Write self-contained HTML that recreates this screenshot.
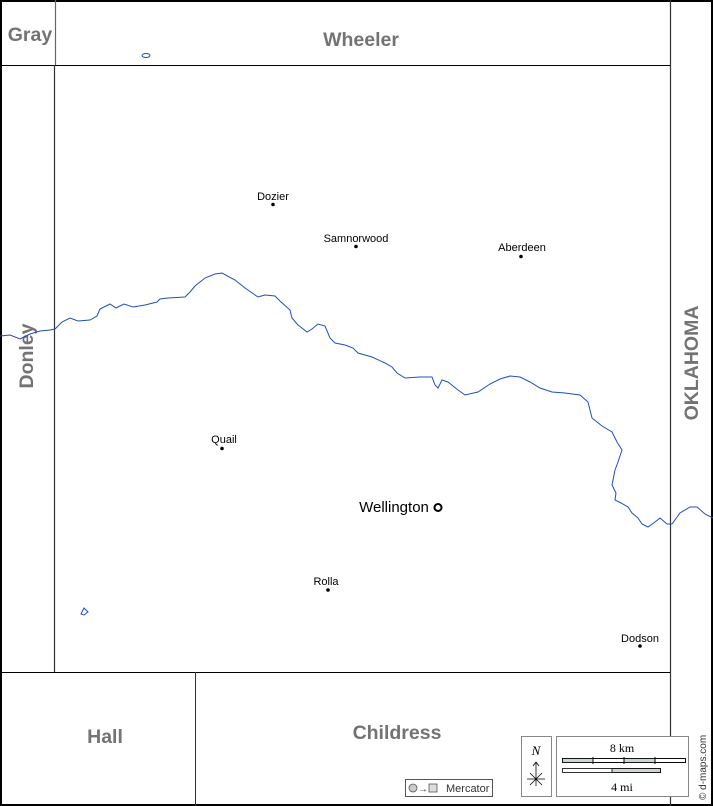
<!DOCTYPE html>
<html><head><meta charset="utf-8"><style>
html,body{margin:0;padding:0;background:#fff}
svg{display:block}
.c{font-family:"Liberation Sans",Arial,sans-serif;font-weight:bold;fill:#737373;font-size:19.5px}
.t{font-family:"Liberation Sans",Arial,sans-serif;font-size:11px;fill:#000}
</style></head><body>
<svg width="713" height="806" viewBox="0 0 713 806" xmlns="http://www.w3.org/2000/svg">
<rect x="1" y="1" width="711" height="804" fill="#fff" stroke="#000" stroke-width="2"/>
<line x1="55.5" y1="0" x2="55.5" y2="66" stroke="#666" stroke-width="1.2"/>
<line x1="0" y1="65.5" x2="670" y2="65.5" stroke="#000" stroke-width="1"/>
<line x1="670.5" y1="0" x2="670.5" y2="806" stroke="#333" stroke-width="1.2"/>
<line x1="54.5" y1="65" x2="54.5" y2="672" stroke="#333" stroke-width="1.2"/>
<line x1="0" y1="672.5" x2="670" y2="672.5" stroke="#000" stroke-width="1"/>
<line x1="195.5" y1="672" x2="195.5" y2="806" stroke="#333" stroke-width="1"/>
<text class="c" x="30" y="41" text-anchor="middle">Gray</text>
<text class="c" x="361" y="46" text-anchor="middle">Wheeler</text>
<text class="c" x="105" y="743" text-anchor="middle">Hall</text>
<text class="c" x="397" y="739" text-anchor="middle">Childress</text>
<text class="c" transform="translate(33,356) rotate(-90)" text-anchor="middle">Donley</text>
<text class="c" transform="translate(698,363) rotate(-90)" text-anchor="middle">OKLAHOMA</text>
<path fill="none" stroke="#1f4fbf" stroke-width="1" d="M0,336 L10,335 L20,339 L30,334 L40,331 L50,330 L55,329 L62,322 L70,318 L78,321 L90,320 L97,316 L100,309 L110,304 L116,308 L124,304 L133,307 L145,305 L157,302 L160,299 L168,298 L185,297 L190,292 L195,286 L205,278 L215,274 L222,273 L235,280 L245,288 L258,297 L265,295 L275,296 L280,301 L290,310 L292,318 L298,325 L307,332 L312,329 L318,324 L325,326 L330,338 L335,343 L345,345 L353,348 L358,353 L372,357 L385,363 L392,367 L397,373 L405,378 L420,377 L432,377 L435,385 L438,388 L442,380 L448,382 L458,390 L465,395 L478,392 L490,384 L500,379 L510,376 L520,377 L530,382 L540,388 L552,392 L565,393 L580,395 L588,402 L592,418 L602,426 L612,432 L617,442 L622,450 L618,462 L615,470 L612,485 L616,493 L615,500 L621,503 L628,507 L632,513 L638,518 L642,524 L648,527 L655,522 L660,518 L667,524 L672,524 L680,513 L690,507 L697,507 L705,514 L713,518"/>
<ellipse cx="146" cy="55.5" rx="4" ry="2" fill="none" stroke="#1f4fbf" stroke-width="1"/>
<path d="M84,608 L88,612 L84,615 L81,614 Z" fill="none" stroke="#1f4fbf" stroke-width="1"/>
<g>
<circle cx="273" cy="204.5" r="1.8"/><text class="t" x="273" y="200" text-anchor="middle">Dozier</text>
<circle cx="356" cy="246.5" r="1.8"/><text class="t" x="356" y="242" text-anchor="middle">Samnorwood</text>
<circle cx="521" cy="256.5" r="1.8"/><text class="t" x="522" y="251" text-anchor="middle">Aberdeen</text>
<circle cx="222" cy="448.5" r="1.8"/><text class="t" x="224" y="443" text-anchor="middle">Quail</text>
<circle cx="328" cy="590" r="1.8"/><text class="t" x="326" y="585" text-anchor="middle">Rolla</text>
<circle cx="640" cy="646" r="1.8"/><text class="t" x="640" y="642" text-anchor="middle">Dodson</text>
<circle cx="438" cy="507.5" r="3.5" fill="none" stroke="#000" stroke-width="2"/>
<text x="394" y="512" text-anchor="middle" style="font-family:'Liberation Sans',sans-serif;font-size:15px">Wellington</text>
</g>
<rect x="405.5" y="779.5" width="87" height="17" fill="#fff" stroke="#555" stroke-width="1"/>
<circle cx="413" cy="788" r="4" fill="#ccc" stroke="#555" stroke-width="0.8"/>
<text x="418" y="792" style="font-family:'Liberation Sans',sans-serif;font-size:10px;fill:#333">→</text>
<rect x="429" y="784" width="8" height="8" fill="#ddd" stroke="#555" stroke-width="0.8"/>
<text x="446" y="792" style="font-family:'Liberation Sans',sans-serif;font-size:11px;fill:#333">Mercator</text>
<rect x="521.5" y="736.5" width="30" height="60" fill="#fff" stroke="#888"/>
<text x="536" y="755" text-anchor="middle" style="font-family:'Liberation Serif',serif;font-style:italic;font-size:13px">N</text>
<line x1="536" y1="763" x2="536" y2="786" stroke="#000" stroke-width="0.8"/>
<path d="M533,766 L536,762 L539,766" fill="none" stroke="#000" stroke-width="0.8"/>
<line x1="527" y1="779" x2="545" y2="779" stroke="#000" stroke-width="0.8"/>
<line x1="530" y1="773" x2="542" y2="785" stroke="#000" stroke-width="0.8"/>
<line x1="542" y1="773" x2="530" y2="785" stroke="#000" stroke-width="0.8"/>
<rect x="556.5" y="736.5" width="132" height="60" fill="#fff" stroke="#888"/>
<text x="622" y="752" text-anchor="middle" style="font-family:'Liberation Serif',serif;font-size:12px">8 km</text>
<rect x="562.5" y="758.5" width="123" height="4" fill="#fff" stroke="#000" stroke-width="0.8"/>
<rect x="562.5" y="758.5" width="31" height="4" fill="#c8d8d0"/><rect x="624" y="758.5" width="31" height="4" fill="#c8d8d0"/>
<rect x="562.5" y="758.5" width="123" height="4" fill="none" stroke="#000" stroke-width="0.8"/>
<line x1="593" y1="757" x2="593" y2="764" stroke="#000"/><line x1="624" y1="757" x2="624" y2="764" stroke="#000"/><line x1="655" y1="757" x2="655" y2="764" stroke="#000"/>
<rect x="562.5" y="768.5" width="98" height="4" fill="#fff" stroke="#000" stroke-width="0.8"/>
<rect x="612" y="768.5" width="48.5" height="4" fill="#c8d8d0" stroke="#000" stroke-width="0.8"/>
<text x="622" y="791" text-anchor="middle" style="font-family:'Liberation Serif',serif;font-size:12px">4 mi</text>
<text transform="translate(706,800) rotate(-90)" style="font-family:'Liberation Sans',sans-serif;font-size:10px;fill:#333">© d-maps.com</text>
</svg>
</body></html>
